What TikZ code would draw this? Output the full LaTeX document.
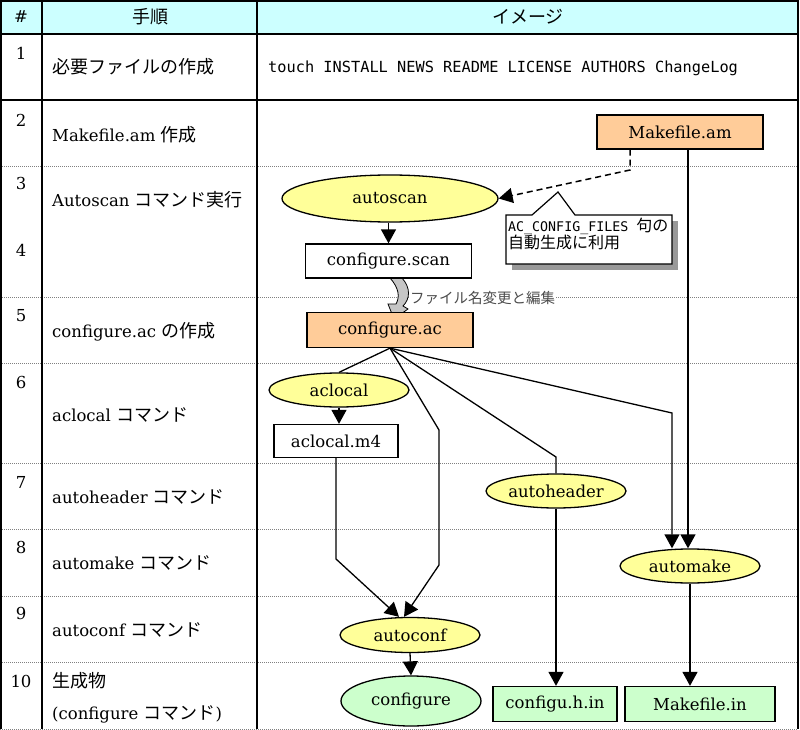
\documentclass[tikz,border=0pt]{standalone}
\usepackage{fontspec}
\setmainfont{DejaVu Serif}
\newfontfamily\jpfont{Noto Sans CJK JP}
\newfontfamily\cmdfont{DejaVu Sans Mono}
\usetikzlibrary{arrows.meta,shapes.geometric}
\definecolor{hdrcyan}{RGB}{204,255,255}
\definecolor{srcorange}{RGB}{255,204,153}
\definecolor{cmdyellow}{RGB}{255,255,153}
\definecolor{outgreen}{RGB}{204,255,204}
\def\jp#1{{\jpfont\fontsize{18}{22}\selectfont #1}}
\def\jps#1{{\jpfont\fontsize{16}{17}\selectfont #1}}
\tikzset{
	gridline/.style={line width=1.5pt, color=black},
	griddot/.style={line width=0.8pt, color=gray, dash pattern=on 1pt off 1pt},
	steptxt/.style={anchor=west, inner sep=0pt},
	filebox/.style={draw, fill=white, line width=1.3pt, minimum width=166pt, minimum height=34pt, inner sep=0pt},
	srcbox/.style={filebox, fill=srcorange},
	outbox/.style={filebox, fill=outgreen, minimum height=35pt},
	cmdell/.style={ellipse, draw, fill=cmdyellow, line width=1.3pt, minimum width=140pt, minimum height=34pt, inner sep=0pt},
	outell/.style={cmdell, fill=outgreen, minimum height=50pt},
	link/.style={line width=1.3pt},
	flow/.style={link, -{Triangle[length=14pt,width=15pt]}},
	noteflow/.style={line width=1.5pt, dash pattern=on 6pt off 4pt, -{Triangle[length=14pt,width=15pt]}},
}

\begin{document}
\begin{tikzpicture}[x=1pt, y=-1pt, font=\fontsize{16.5}{19}\selectfont]
	%%%%% START %%%%%
	\useasboundingbox (0,0) rectangle (800,730);

	% table
	\fill[hdrcyan] (0,0) rectangle (798,34);
	\foreach \yy in {166,297,363,463,529,596,662,729}
		\draw[griddot] (0,\yy) -- (798,\yy);
	\draw[gridline] (1,34) -- (798,34);
	\draw[gridline] (1,100) -- (798,100);
	\draw[gridline] (1,729) -- (1,1) -- (798,1) -- (798,729);
	\draw[gridline] (42,1) -- (42,729);
	\draw[gridline] (257,1) -- (257,729);

	\node (hnum) at (21,17) {\#};
	\node (hstep) at (150,17) {\jp{手順}};
	\node (himg) at (528,17) {\jp{イメージ}};

	\foreach \k/\yy in {1/53,2/120,3/183,4/250,5/316,6/382,7/482,8/547,9/613,10/681}
		\node (num\k) at (21,\yy) {\k};

	\node[steptxt] (lbl1) at (52,67) {\jp{必要ファイルの作成}};
	\node[steptxt] (lbl2) at (52,135) {Makefile.am \jp{作成}};
	\node[steptxt] (lbl3) at (52,200) {Autoscan \jp{コマンド実行}};
	\node[steptxt] (lbl5) at (52,332) {configure.ac \jp{の作成}};
	\node[steptxt] (lbl6) at (52,415) {aclocal \jp{コマンド}};
	\node[steptxt] (lbl7) at (52,497) {autoheader \jp{コマンド}};
	\node[steptxt] (lbl8) at (52,563) {automake \jp{コマンド}};
	\node[steptxt] (lbl9) at (52,630) {autoconf \jp{コマンド}};
	\node[steptxt] (lbl10a) at (52,681) {\jp{生成物}};
	\node[steptxt] (lbl10b) at (52,714) {(configure \jp{コマンド})};

	\node[steptxt, font=\cmdfont\fontsize{15.3}{18}\selectfont] (touch) at (268,68) {touch INSTALL NEWS README LICENSE AUTHORS ChangeLog};

	% callout
	\fill[gray!80] (512,221) rectangle (678,270);
	\draw[fill=white, line width=1.2pt] (506,215) -- (532,215) -- (558,192) -- (575,215) -- (672,215) -- (672,264) -- (506,264) -- cycle;
	\node[anchor=north west, inner sep=0pt, align=left, font=\cmdfont\fontsize{13.3}{17}\selectfont] (acnote) at (508,218) {AC\_CONFIG\_FILES \jps{句の}\\\jps{自動生成に利用}};

	% rename arrow
	\draw[fill=gray!45, line width=0.8pt] (390,278) -- (402,278) .. controls (411,288) and (410,299) .. (403,306) -- (408,309) -- (394,319) -- (388,304) -- (396,304) .. controls (400,297) and (399,288) .. (390,278) -- cycle;
	\node[fill=white, anchor=west, inner sep=1pt, text=black!70, font=\jpfont\fontsize{14.5}{16}\selectfont] (renlbl) at (409,298) {ファイル名変更と編集};

	% files and commands
	\node[srcbox] (mkam) at (680,132) {Makefile.am};
	\node[cmdell, minimum width=216pt, minimum height=47pt] (autoscan) at (390,198.5) {autoscan};
	\node[filebox] (cfgscan) at (388.5,261) {configure.scan};
	\node[srcbox, minimum height=35pt] (cfgac) at (390,330) {configure.ac};
	\node[cmdell] (aclocal) at (339,390) {aclocal};
	\node[filebox, minimum width=124pt, minimum height=33pt] (acm4) at (336,441) {aclocal.m4};
	\node[cmdell] (autohdr) at (556,491) {autoheader};
	\node[cmdell] (automake) at (690,566) {automake};
	\node[cmdell, minimum height=35pt] (autoconf) at (410,635) {autoconf};
	\node[outell] (cfgure) at (411,701) {configure};
	\node[outbox, minimum width=124pt] (cfghin) at (555,704) {configu.h.in};
	\node[outbox, minimum width=150pt] (mkin) at (700,704) {Makefile.in};

	% connectors
	\draw[noteflow] ([xshift=-50pt]mkam.south) -- (630,170) -- (autoscan.east);
	\draw[flow] (autoscan.south -| cfgscan.north) -- (cfgscan.north);
	\draw[link] (cfgac.south) -- (aclocal.north);
	\draw[flow] (aclocal.south) -- (aclocal.south |- acm4.north);
	\draw[flow] (acm4.south) -- (336,559) -- ([xshift=-11pt]autoconf.north);
	\draw[flow] (cfgac.south) -- (439,430) -- (439,565) -- ([xshift=-6pt]autoconf.north);
	\draw[link] (cfgac.south) -- (556,457) -- (autohdr.north);
	\draw[flow] (cfgac.south) -- (672,413) -- ([xshift=-18pt]automake.north);
	\draw[flow] ([xshift=8pt]mkam.south) -- ([xshift=-2pt]automake.north);
	\draw[flow] (autoconf.south) -- (cfgure.north);
	\draw[flow] (autohdr.south) -- (autohdr.south |- cfghin.north);
	\draw[flow] (automake.south) -- (automake.south |- mkin.north);

	%%%%% END %%%%%
\end{tikzpicture}
\end{document}
